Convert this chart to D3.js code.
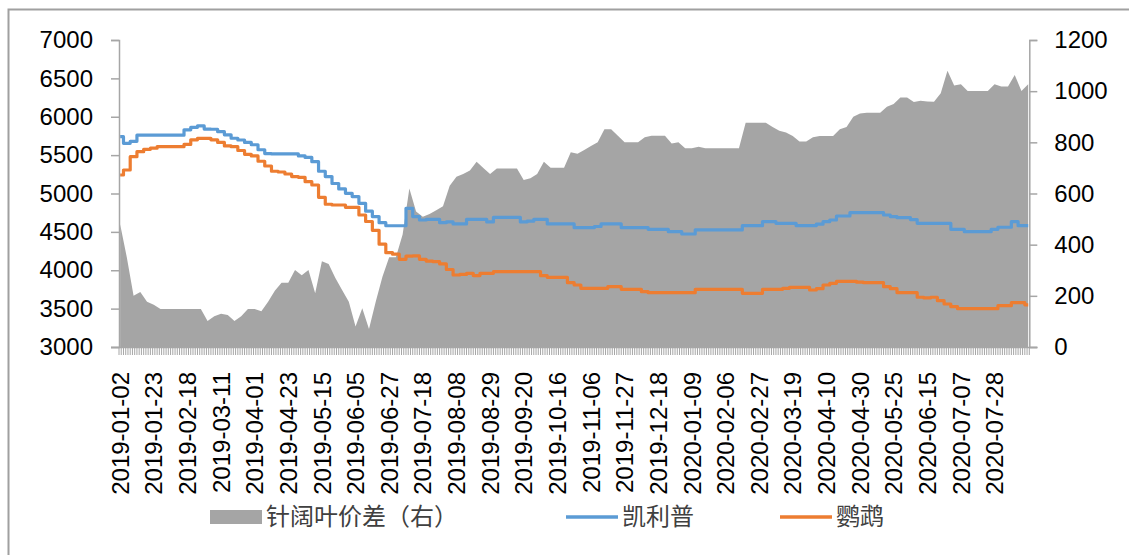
<!DOCTYPE html>
<html>
<head>
<meta charset="utf-8">
<script src="https://cdn.jsdelivr.net/npm/d3@7/dist/d3.min.js"></script>
<style>
  body { margin: 0; background: #fff; }
  svg { display: block; }
</style>
</head>
<body>
<svg id="chart" width="1129" height="555"></svg>
<script>
// tick labels, one every 15 trading days
var tickLabels = ["2019-01-02","2019-01-23","2019-02-18","2019-03-11","2019-04-01","2019-04-23",
  "2019-05-15","2019-06-05","2019-06-27","2019-07-18","2019-08-08","2019-08-29","2019-09-20",
  "2019-10-16","2019-11-06","2019-11-27","2019-12-18","2020-01-09","2020-02-06","2020-02-27",
  "2020-03-19","2020-04-10","2020-04-30","2020-05-25","2020-06-15","2020-07-07","2020-07-28"];
var labelEvery = 15;
var dayCount = 406;   // trading days on the category axis
var sampleEvery = 3;  // values below are read every 3rd trading day

// 凯利普 (left axis)
var kaili = [5740,5654,5680,5760,5760,5760,5760,5760,5760,5760,
  5830,5862,5880,5840,5837,5805,5765,5720,5697,5665,
  5635,5570,5520,5515,5515,5515,5515,5490,5470,5415,
  5290,5220,5130,5060,5002,4960,4872,4770,4700,4620,
  4580,4580,4580,4807,4700,4655,4664,4664,4620,4630,
  4603,4603,4664,4664,4664,4630,4690,4690,4690,4690,
  4630,4640,4664,4664,4603,4603,4603,4603,4555,4555,
  4555,4570,4603,4603,4603,4555,4555,4555,4555,4533,
  4533,4533,4502,4502,4472,4472,4525,4525,4525,4525,
  4525,4525,4525,4581,4581,4581,4633,4633,4612,4612,
  4612,4581,4581,4581,4600,4633,4655,4707,4707,4750,
  4750,4750,4750,4750,4720,4700,4685,4685,4660,4612,
  4612,4612,4612,4612,4533,4533,4502,4502,4502,4502,
  4533,4560,4560,4633,4581,4581];

// 鹦鹉 (left axis)
var yingwu = [5241,5306,5480,5545,5576,5590,5610,5610,5610,5610,
  5640,5700,5719,5719,5700,5665,5620,5610,5560,5510,
  5490,5420,5358,5290,5280,5254,5220,5211,5154,5111,
  4950,4860,4850,4850,4820,4820,4720,4635,4520,4340,
  4229,4210,4142,4185,4186,4142,4120,4112,4082,4010,
  3938,3945,3960,3930,3960,3960,3981,3981,3981,3981,
  3981,3981,3981,3929,3908,3908,3908,3838,3808,3765,
  3765,3765,3765,3786,3786,3752,3752,3752,3721,3708,
  3708,3708,3708,3708,3708,3708,3752,3752,3752,3752,
  3752,3752,3752,3700,3700,3700,3752,3752,3752,3765,
  3778,3778,3778,3743,3760,3808,3830,3856,3856,3856,
  3845,3838,3838,3838,3786,3760,3708,3708,3708,3648,
  3640,3648,3603,3560,3525,3500,3500,3500,3500,3500,
  3500,3538,3538,3577,3577,3550];

// 针阔叶价差 (right axis)
var spread = [480,350,200,215,177,165,149,149,149,149,
  149,149,149,102,120,130,125,102,120,149,
  149,140,177,220,251,251,301,280,301,210,
  335,324,270,223,177,80,151,70,177,275,
  351,351,440,620,530,509,520,535,550,630,
  665,676,690,724,700,676,698,698,698,698,
  653,660,676,724,701,701,701,761,755,770,
  786,800,851,851,826,800,800,800,820,826,
  826,826,795,800,777,777,783,777,777,777,
  777,777,777,877,877,877,877,860,845,838,
  825,803,803,820,825,825,825,851,860,900,
  913,916,916,916,939,950,975,975,958,963,
  960,959,992,1080,1022,1027,1001,1001,1001,1001,
  1027,1018,1018,1063,1001,1027];

var leftTicks = [3000,3500,4000,4500,5000,5500,6000,6500,7000];
var rightTicks = [0,200,400,600,800,1000,1200];

var svg = d3.select("#chart");
var plotLeft = 119, plotRight = 1029.3, plotTop = 40, plotBottom = 347;
var axisColor = "#a6a6a6";
var numFont = "'Liberation Sans', Arial, sans-serif";
var cjkFont = "'Noto Sans CJK SC', sans-serif";

var x = d3.scaleLinear().domain([-0.5, dayCount - 0.5]).range([plotLeft, plotRight]);
var yL = d3.scaleLinear().domain([3000, 7000]).range([plotBottom, plotTop]);
var yR = d3.scaleLinear().domain([0, 1200]).range([plotBottom, plotTop]);

function day(d, i) { return x(i * sampleEvery); }

// outer frame
svg.append("path")
  .attr("d", "M8.5,555V9.5H1129")
  .attr("fill", "none")
  .attr("stroke", "#a0a0a0")
  .attr("stroke-width", 2);

// spread area
svg.append("path")
  .datum(spread)
  .attr("fill", "#a5a5a5")
  .attr("d", d3.area().x(day).y0(yR(0)).y1(function(d) { return yR(d); }));

// price lines (prices move in small steps)
var line = d3.line().x(day).y(function(d) { return yL(d); }).curve(d3.curveStep);
svg.append("path").datum(kaili)
  .attr("fill", "none").attr("stroke", "#5b9bd5").attr("stroke-width", 3.2)
  .attr("stroke-linejoin", "round").attr("d", line);
svg.append("path").datum(yingwu)
  .attr("fill", "none").attr("stroke", "#ed7d31").attr("stroke-width", 3.2)
  .attr("stroke-linejoin", "round").attr("d", line);

// left axis
var gL = svg.append("g").attr("transform", "translate(" + plotLeft + ",0)")
  .call(d3.axisLeft(yL).tickValues(leftTicks).tickFormat(d3.format("d")).tickSize(8).tickPadding(18));
// right axis
var gR = svg.append("g").attr("transform", "translate(" + plotRight + ",0)")
  .call(d3.axisRight(yR).tickValues(rightTicks).tickFormat(d3.format("d")).tickSize(8).tickPadding(17));
[gL, gR].forEach(function(g) {
  g.select(".domain").attr("stroke", axisColor).attr("stroke-width", 1.5);
  g.selectAll(".tick line").attr("stroke", axisColor).attr("stroke-width", 1.5);
  g.selectAll(".tick text").attr("font-family", numFont).attr("font-size", 24).attr("fill", "#000");
});

// category axis: a tick between every trading day
var xAxis = svg.append("g");
xAxis.append("line")
  .attr("x1", plotLeft - 8).attr("x2", plotRight + 8)
  .attr("y1", plotBottom + 0.5).attr("y2", plotBottom + 0.5)
  .attr("stroke", axisColor).attr("stroke-width", 1.5);
xAxis.selectAll("line.tk")
  .data(d3.range(dayCount + 1))
  .enter().append("line")
  .attr("class", "tk")
  .attr("x1", function(d) { return x(d - 0.5); })
  .attr("x2", function(d) { return x(d - 0.5); })
  .attr("y1", plotBottom).attr("y2", plotBottom + 8)
  .attr("stroke", axisColor).attr("stroke-width", 1);

xAxis.selectAll("text")
  .data(tickLabels)
  .enter().append("text")
  .attr("transform", function(d, i) {
    return "translate(" + x(i * labelEvery) + ",372) rotate(-90)";
  })
  .attr("text-anchor", "end")
  .attr("dy", "0.36em")
  .attr("font-family", numFont)
  .attr("font-size", 24)
  .attr("fill", "#000")
  .text(function(d) { return d; });

// legend
var legend = svg.append("g").attr("font-family", cjkFont).attr("font-size", 24).attr("fill", "#404040");
legend.append("rect").attr("x", 210).attr("y", 510).attr("width", 52).attr("height", 14).attr("fill", "#a5a5a5");
legend.append("text").attr("x", 266).attr("y", 517).attr("dy", "0.35em").text("针阔叶价差（右）");
legend.append("line").attr("x1", 566).attr("x2", 618).attr("y1", 517).attr("y2", 517)
  .attr("stroke", "#5b9bd5").attr("stroke-width", 3.5);
legend.append("text").attr("x", 622).attr("y", 517).attr("dy", "0.35em").text("凯利普");
legend.append("line").attr("x1", 780).attr("x2", 832).attr("y1", 517).attr("y2", 517)
  .attr("stroke", "#ed7d31").attr("stroke-width", 3.5);
legend.append("text").attr("x", 836).attr("y", 517).attr("dy", "0.35em").text("鹦鹉");
</script>
</body>
</html>
